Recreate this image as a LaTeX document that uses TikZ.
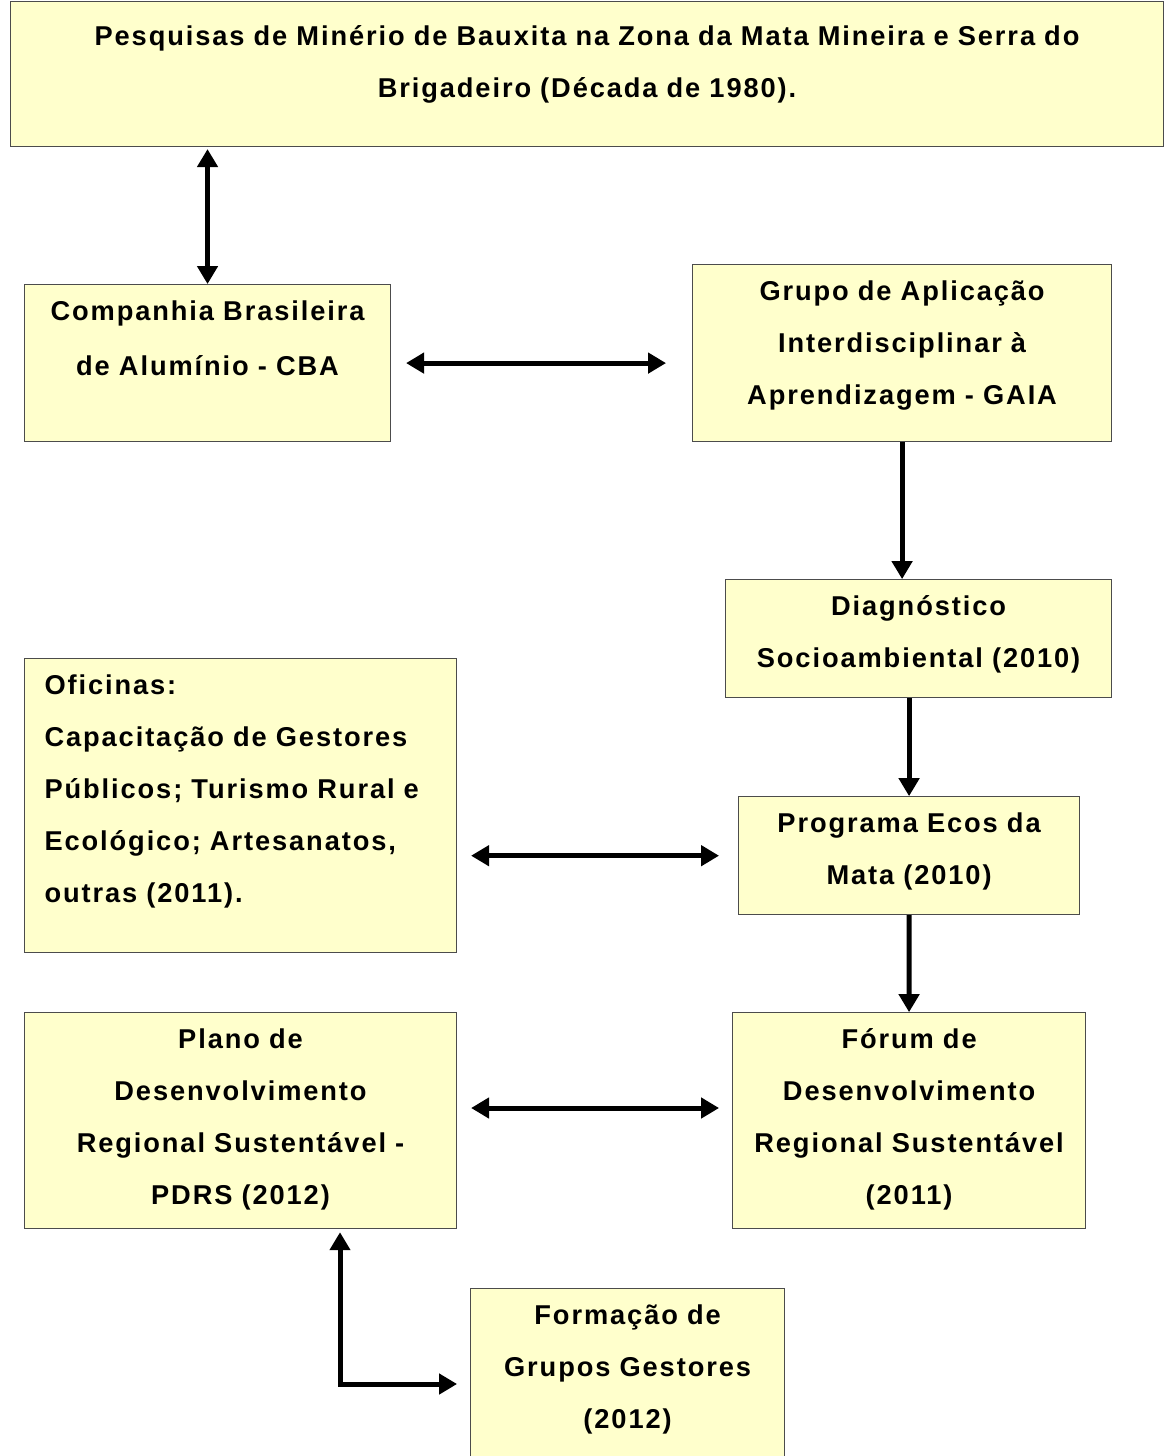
\documentclass[tikz,border=0pt]{standalone}
\usepackage{fontspec}
\setmainfont{Liberation Sans}[LetterSpace=7]
\usepackage{tikz}
\usetikzlibrary{arrows.meta,positioning}

\definecolor{boxyellow}{RGB}{255,255,204}

\begin{document}
\begin{tikzpicture}[<->,>={Triangle[length=0.36cm,width=0.4cm]},
line width=0.1cm, font=\fontsize{15.5}{29.5}\selectfont\bfseries]
\tikzset{box/.style={draw=black!70, line width=0.6pt, fill=boxyellow,
inner sep=0pt, anchor=north west, align=center, text height=0.72cm}}

\useasboundingbox (0,0) rectangle (23.4,-29.12);
\clip (0,0) rectangle (23.4,-29.12);

\node[box, text width=23.06cm, text height=0.88cm, text depth=2.02cm]
(top) at (0.2,-0.02) {Pesquisas de Minério de Bauxita na Zona da Mata Mineira e Serra do\\
Brigadeiro (Década de 1980).};

\node[box, text width=7.32cm, text depth=2.42cm, font=\fontsize{15.5}{31.2}\selectfont\bfseries]
(cba) [below right=2.74cm and 0.28cm of top.south west, anchor=north west]
{Companhia Brasileira\\de Alumínio - CBA};

\node[box, text width=8.38cm, text depth=2.82cm]
(gaia) [above right=0.4cm and 6.02cm of cba.north east, anchor=north west]
{Grupo de Aplicação\\Interdisciplinar à\\Aprendizagem - GAIA};

\node[box, text width=7.72cm, text depth=1.64cm]
(diag) [below right=2.74cm and 0.66cm of gaia.south west, anchor=north west]
{Diagnóstico\\Socioambiental (2010)};

\node[box, align=left, inner xsep=0.4cm, text width=7.84cm, text depth=5.16cm]
(ofic) [below=4.32cm of cba.south west, anchor=north west]
{Oficinas:\\Capacitação de Gestores\\Públicos; Turismo Rural e\\Ecológico; Artesanatos,\\outras (2011).};

\node[box, text width=6.82cm, text depth=1.64cm]
(ecos) [below right=1.96cm and 0.26cm of diag.south west, anchor=north west]
{Programa Ecos da\\Mata (2010)};

\node[box, text width=8.64cm, text depth=3.6cm]
(plano) [below=1.18cm of ofic.south west, anchor=north west]
{Plano de\\Desenvolvimento\\Regional Sustentável -\\PDRS (2012)};

\node[box, text width=7.06cm, text depth=3.6cm]
(forum) [right=5.5cm of plano.north east, anchor=north west]
{Fórum de\\Desenvolvimento\\Regional Sustentável\\(2011)};

\node[box, text width=6.28cm, text depth=3.6cm]
(form) [below right=1.18cm and 0.26cm of plano.south east, anchor=north west]
{Formação de\\Grupos Gestores\\(2012)};

\coordinate (bend) at (6.8,-27.68);

\draw[shorten <=0.04cm] (top.south -| cba.north) -- (cba.north);
\draw[shorten <=0.3cm, shorten >=0.52cm] (cba.east) -- (cba.east -| gaia.west);
\draw[<-] (diag.north -| gaia.south) -- (gaia.south);
\draw[->] (diag.south -| ecos.north) -- (ecos.north);
\draw[shorten <=0.28cm, shorten >=0.38cm] (ofic.east |- ecos.west) -- (ecos.west);
\draw[->] (ecos.south) -- (forum.north);
\draw[shorten <=0.28cm, shorten >=0.26cm] (plano.east |- 0,-22.16) -- (forum.west |- 0,-22.16);
\draw[shorten <=0.06cm, shorten >=0.26cm] (plano.south -| bend) -- (bend) -- (form.west |- bend);

\end{tikzpicture}
\end{document}
